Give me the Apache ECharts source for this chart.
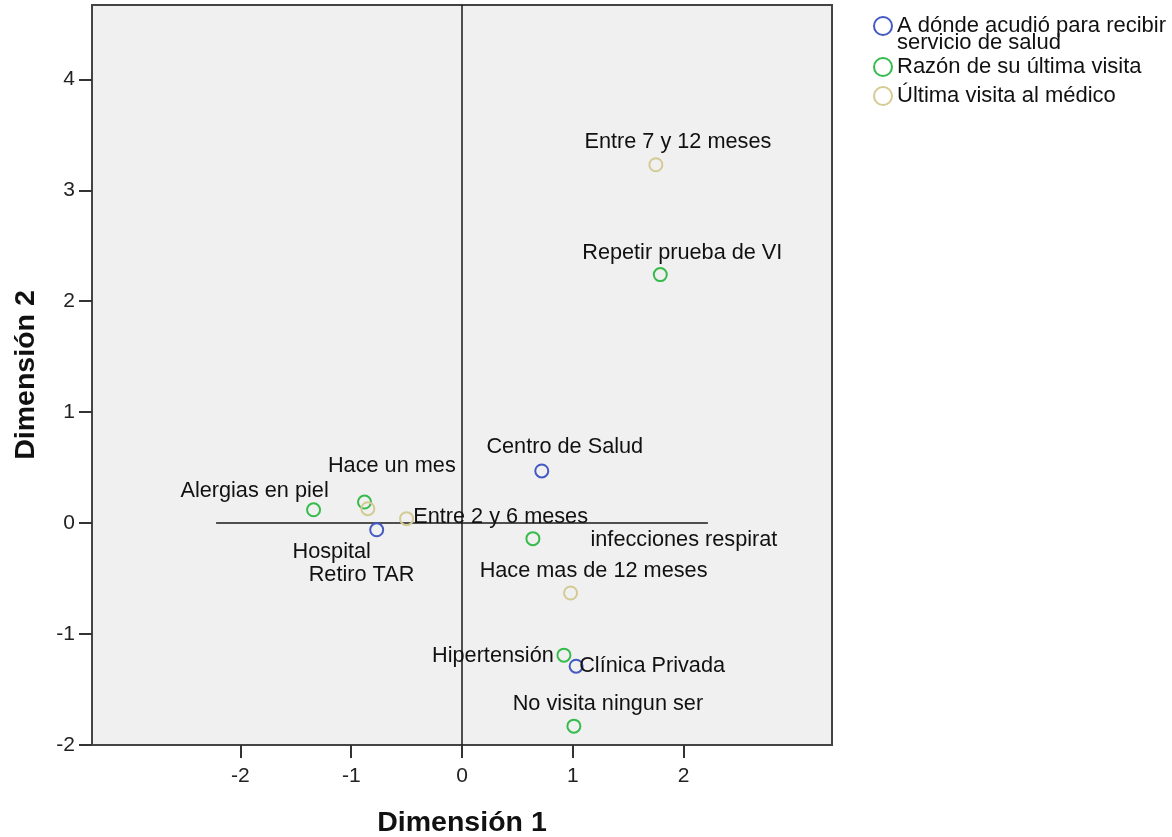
<!DOCTYPE html>
<html>
<head>
<meta charset="utf-8">
<script src="https://cdn.jsdelivr.net/npm/echarts@6/dist/echarts.min.js"></script>
<style>
  html, body { margin: 0; padding: 0; background: #ffffff; }
  #chart { width: 1172px; height: 837px; }
</style>
</head>
<body>
<div id="chart"></div>
<script>
// Category quantifications (joint plot of category points)
const groupNames = [
  'A dónde acudió para recibir servicio de salud',
  'Razón de su última visita',
  'Última visita al médico'
];

const lugarLabels = ['Centro de Salud', 'Hospital', 'Clínica Privada'];
const lugarDim1 = [0.72, -0.77, 1.03];
const lugarDim2 = [0.47, -0.06, -1.29];

const razonLabels = ['Repetir prueba de VI', 'Alergias en piel', 'Retiro TAR',
  'infecciones respirat', 'Hipertensión', 'No visita ningun ser'];
const razonDim1 = [1.79, -1.34, -0.88, 0.64, 0.92, 1.01];
const razonDim2 = [2.24, 0.12, 0.19, -0.14, -1.19, -1.83];

const visitaLabels = ['Entre 7 y 12 meses', 'Hace un mes', 'Entre 2 y 6 meses', 'Hace mas de 12 meses'];
const visitaDim1 = [1.75, -0.85, -0.50, 0.98];
const visitaDim2 = [3.23, 0.13, 0.04, -0.63];

// Origin reference line extent along dimension 1
const refLineDim1 = [-2.22, 2.22];

const xTicks = [-2, -1, 0, 1, 2];
const yTicks = [-2, -1, 0, 1, 2, 3, 4];

// Label placement (pixel offset of each label centre from its point)
const labelOffsets = {
  'Centro de Salud': [23, -24],
  'Hospital': [-45, 22],
  'Clínica Privada': [76, 0],
  'Repetir prueba de VI': [22, -22],
  'Alergias en piel': [-59, -19],
  'Retiro TAR': [-3, 73],
  'infecciones respirat': [151, 1],
  'Hipertensión': [-71, 1],
  'No visita ningun ser': [34, -22],
  'Entre 7 y 12 meses': [22, -23],
  'Hace un mes': [24, -43],
  'Entre 2 y 6 meses': [94, -2],
  'Hace mas de 12 meses': [23, -22]
};

// vertical position of each legend entry
const legendTops = [-2, 56, 85];

const colors = ['#4459c2', '#36bb4c', '#d4ca94'];
const FONT = '"Liberation Sans", Arial, sans-serif';

function points(labels, d1, d2) {
  return labels.map((name, i) => ({
    name: name,
    value: [d1[i], d2[i]],
    label: { offset: labelOffsets[name] || [0, 0] }
  }));
}

function scatterSeries(name, data, color) {
  return {
    type: 'scatter',
    name: name,
    data: data,
    symbol: 'circle',
    symbolSize: 13,
    itemStyle: { color: 'rgba(0,0,0,0)', borderColor: color, borderWidth: 2, opacity: 1 },
    label: {
      show: true,
      position: 'inside',
      formatter: p => p.name,
      fontFamily: FONT,
      fontSize: 21.7,
      color: '#111'
    },
    emphasis: { disabled: true },
    z: 5
  };
}

function legendEntry(name, top) {
  return {
    orient: 'vertical',
    left: 873,
    top: top,
    padding: 0,
    itemWidth: 18,
    itemHeight: 18,
    icon: 'circle',
    // the long entry wraps onto two lines, with its marker beside the first line
    formatter: n => n.indexOf(' servicio') >= 0 ? '\n' + n.replace(' servicio', '\nservicio') : n,
    textStyle: { fontFamily: FONT, fontSize: 22, color: '#111', lineHeight: 17 },
    data: [name],
    itemStyle: { color: 'rgba(0,0,0,0)', borderWidth: 2 }
  };
}

const chart = echarts.init(document.getElementById('chart'), null, { renderer: 'canvas' });

chart.setOption({
  animation: false,
  backgroundColor: '#ffffff',
  textStyle: { fontFamily: FONT },
  grid: {
    left: 92, right: 340, top: 5, bottom: 92,
    containLabel: false,
    outerBoundsMode: 'none',
    show: true,
    backgroundColor: '#f0f0f0',
    borderColor: '#444',
    borderWidth: 2
  },
  legend: groupNames.map((n, i) => legendEntry(n, legendTops[i])),
  xAxis: {
    type: 'value',
    min: -3.34,
    max: 3.34,
    name: 'Dimensión 1',
    nameLocation: 'middle',
    nameGap: 64,
    nameMoveOverlap: false,
    nameTextStyle: { fontFamily: FONT, fontSize: 28.5, fontWeight: 'bold', color: '#111' },
    splitLine: { show: false },
    axisLine: { show: true, onZero: false, lineStyle: { color: '#444', width: 2 } },
    axisTick: { show: true, length: 13, customValues: xTicks, lineStyle: { color: '#333', width: 2 } },
    axisLabel: { customValues: xTicks, fontFamily: FONT, fontSize: 21, color: '#222', margin: 21 }
  },
  yAxis: {
    type: 'value',
    min: -2,
    max: 4.67,
    name: 'Dimensión 2',
    nameLocation: 'middle',
    nameGap: 51,
    nameMoveOverlap: false,
    nameTextStyle: { fontFamily: FONT, fontSize: 28.5, fontWeight: 'bold', color: '#111' },
    splitLine: { show: false },
    axisLine: { show: true, onZero: false, lineStyle: { color: '#444', width: 2 } },
    axisTick: { show: true, length: 13, customValues: yTicks, lineStyle: { color: '#333', width: 2 } },
    axisLabel: { customValues: yTicks, fontFamily: FONT, fontSize: 21, color: '#222', margin: 17 }
  },
  series: [
    {
      type: 'line',
      name: 'origen',
      data: [[refLineDim1[0], 0], [refLineDim1[1], 0]],
      symbol: 'none',
      silent: true,
      lineStyle: { color: '#1a1a1a', width: 1.5 },
      markLine: {
        silent: true,
        symbol: 'none',
        label: { show: false },
        lineStyle: { color: '#1a1a1a', width: 1.5, type: 'solid' },
        data: [{ xAxis: 0 }]
      },
      z: 2
    },
    scatterSeries(groupNames[0], points(lugarLabels, lugarDim1, lugarDim2), colors[0]),
    scatterSeries(groupNames[1], points(razonLabels, razonDim1, razonDim2), colors[1]),
    scatterSeries(groupNames[2], points(visitaLabels, visitaDim1, visitaDim2), colors[2])
  ]
});
</script>
</body>
</html>
